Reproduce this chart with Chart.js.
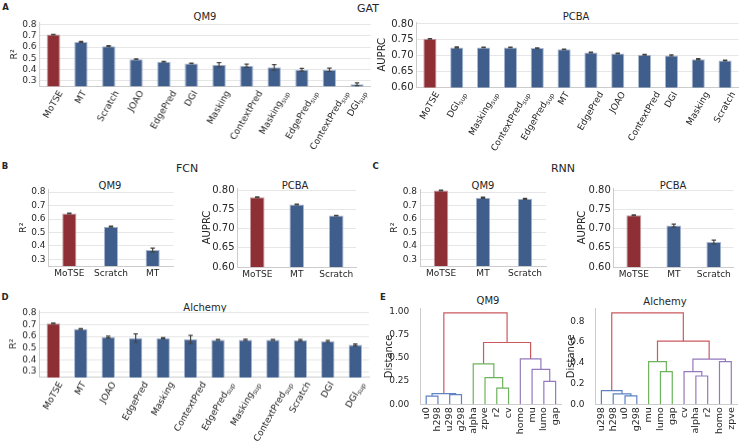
<!DOCTYPE html>
<html>
<head>
<meta charset="utf-8">
<script src="https://cdn.jsdelivr.net/npm/chart.js@4/dist/chart.umd.min.js"></script>
<style>
body{margin:0;width:740px;height:444px;position:relative;overflow:hidden;background:#fff;font-family:"DejaVu Sans",sans-serif;color:#262626}
.box{position:absolute}
.t{position:absolute;transform:translate(-50%,-50%);white-space:nowrap;font-size:10px}
.g{position:absolute;transform:translate(-50%,-50%);white-space:nowrap;font-size:11px}
.p{position:absolute;transform:translate(-50%,-50%);font-size:8.5px;font-weight:bold}
</style>
</head>
<body>
<div class="p" style="left:5.5px;top:6.5px">A</div>
<div class="g" style="left:368px;top:7.5px">GAT</div>
<div class="t" style="left:205px;top:16px">QM9</div>
<div class="t" style="left:576px;top:16px">PCBA</div>

<div class="p" style="left:5px;top:165.5px">B</div>
<div class="g" style="left:187px;top:168px">FCN</div>
<div class="t" style="left:110px;top:184.5px">QM9</div>
<div class="t" style="left:295px;top:184.5px">PCBA</div>

<div class="p" style="left:375.5px;top:165.5px">C</div>
<div class="g" style="left:563px;top:167.5px">RNN</div>
<div class="t" style="left:483px;top:184.5px">QM9</div>
<div class="t" style="left:673px;top:184.5px">PCBA</div>

<div class="p" style="left:5px;top:297px">D</div>
<div class="t" style="left:205px;top:306.5px">Alchemy</div>

<div class="p" style="left:383px;top:297px">E</div>
<div class="t" style="left:488px;top:300px">QM9</div>
<div class="t" style="left:665px;top:300.5px">Alchemy</div>

<script>
// ---- data ----
const r2Ticks = [0.3, 0.4, 0.5, 0.6, 0.7, 0.8];
const auprcTicks = [0.60, 0.65, 0.70, 0.75, 0.80];
const qm9DistTicks = [0, 0.25, 0.5, 0.75, 1.0];
const alchemyDistTicks = [0, 0.2, 0.4, 0.6, 0.8];

const gatQm9Labels = ['MoTSE', 'MT', 'Scratch', 'JOAO', 'EdgePred', 'DGI', 'Masking', 'ContextPred', 'Masking_sup', 'EdgePred_sup', 'ContextPred_sup', 'DGI_sup'];
const gatQm9Values = [0.711, 0.646, 0.608, 0.492, 0.469, 0.454, 0.442, 0.433, 0.419, 0.398, 0.397, 0.268];
const gatQm9Errors = [0.003, 0.004, 0.005, 0.003, 0.004, 0.003, 0.020, 0.015, 0.025, 0.012, 0.015, 0.012];

const gatPcbaLabels = ['MoTSE', 'DGI_sup', 'Masking_sup', 'ContextPred_sup', 'EdgePred_sup', 'MT', 'EdgePred', 'JOAO', 'ContextPred', 'DGI', 'Masking', 'Scratch'];
const gatPcbaValues = [0.753, 0.726, 0.726, 0.726, 0.724, 0.720, 0.710, 0.707, 0.703, 0.701, 0.689, 0.685];
const gatPcbaErrors = [0.001, 0.002, 0.001, 0.001, 0.001, 0.001, 0.001, 0.001, 0.001, 0.002, 0.002, 0.001];

const fcnQm9Labels = ['MoTSE', 'Scratch', 'MT'];
const fcnQm9Values = [0.640, 0.543, 0.369];
const fcnQm9Errors = [0.003, 0.004, 0.015];

const fcnPcbaLabels = ['MoTSE', 'MT', 'Scratch'];
const fcnPcbaValues = [0.782, 0.763, 0.734];
const fcnPcbaErrors = [0.001, 0.001, 0.001];

const rnnQm9Labels = ['MoTSE', 'MT', 'Scratch'];
const rnnQm9Values = [0.812, 0.758, 0.750];
const rnnQm9Errors = [0.003, 0.004, 0.004];

const rnnPcbaLabels = ['MoTSE', 'MT', 'Scratch'];
const rnnPcbaValues = [0.735, 0.708, 0.665];
const rnnPcbaErrors = [0.001, 0.004, 0.005];

const alchemyLabels = ['MoTSE', 'MT', 'JOAO', 'EdgePred', 'Masking', 'ContextPred', 'EdgePred_sup', 'Masking_sup', 'ContextPred_sup', 'Scratch', 'DGI', 'DGI_sup'];
const alchemyValues = [0.710, 0.663, 0.594, 0.585, 0.584, 0.574, 0.571, 0.571, 0.571, 0.566, 0.557, 0.528];
const alchemyErrors = [0.004, 0.004, 0.008, 0.036, 0.004, 0.034, 0.004, 0.006, 0.004, 0.008, 0.008, 0.008];

// dendrograms: leaves in plotted order, merges [left, right, height]; ids >= leaves.length are earlier merges
const qm9Leaves = ['u0', 'h298', 'u298', 'g298', 'alpha', 'zpve', 'r2', 'cv', 'homo', 'mu', 'lumo', 'gap'];
const qm9Merges = [
  [0, 1, 0.089], [2, 3, 0.104], [12, 13, 0.115],
  [6, 7, 0.175], [5, 15, 0.287], [4, 16, 0.437],
  [10, 11, 0.247], [9, 18, 0.376], [8, 19, 0.490],
  [17, 20, 0.667], [14, 21, 0.986]
];
const alchemyLeaves = ['u298', 'h298', 'u0', 'g298', 'mu', 'lumo', 'gap', 'cv', 'alpha', 'r2', 'homo', 'zpve'];
const alchemyMerges = [
  [2, 3, 0.080], [1, 12, 0.099], [0, 13, 0.131],
  [5, 6, 0.314], [4, 15, 0.410],
  [8, 9, 0.272], [7, 17, 0.314], [10, 11, 0.410], [18, 19, 0.435],
  [16, 20, 0.608], [14, 21, 0.880]
];
const colorThreshold = 0.55;

// ---- style ----
const RED = '#8e2e35', BLUE = '#3f5e8c';
const TXT = '#262626', GRID = '#e6e6e6', AXIS = '#cccccc';
const PALETTE = ['#5f82c2', '#6cb35c', '#9479bd'], ABOVE = '#cc5860';
const FONT = '"DejaVu Sans", sans-serif';
const PAD_T = 8, PAD_R = 4;

function makeCanvas(left, top, width, height) {
  const div = document.createElement('div');
  div.className = 'box';
  div.style.left = left + 'px';
  div.style.top = top + 'px';
  div.style.width = width + 'px';
  div.style.height = height + 'px';
  const c = document.createElement('canvas');
  div.appendChild(c);
  document.body.appendChild(div);
  return c;
}

// label text "Name_sup" -> Name with subscript
function drawLabel(ctx, text, cx, top, angle, size) {
  const [main, sub] = text.split('_');
  const subSize = size * 0.72;
  ctx.font = size + 'px ' + FONT;
  const wm = ctx.measureText(main).width;
  ctx.font = subSize + 'px ' + FONT;
  const ws = sub ? ctx.measureText(sub).width : 0;
  const w = wm + ws;
  const a = angle * Math.PI / 180;
  const h = w * Math.sin(a) + size * Math.cos(a);
  ctx.save();
  ctx.translate(cx, top + h / 2);
  ctx.rotate(-a);
  ctx.fillStyle = TXT;
  ctx.textAlign = 'left';
  ctx.textBaseline = 'middle';
  ctx.font = size + 'px ' + FONT;
  ctx.fillText(main, -w / 2, 0);
  if (sub) {
    ctx.font = subSize + 'px ' + FONT;
    ctx.fillText(sub, -w / 2 + wm, size * 0.3);
  }
  ctx.restore();
}

function labelPlugin(labels, angle, size, positions) {
  return {
    id: 'xLabels',
    afterDraw(chart) {
      const x = chart.scales.x;
      labels.forEach((t, i) => {
        const px = x.getPixelForValue(positions ? positions[i] : i);
        drawLabel(chart.ctx, t, px, x.top + 3, angle, size);
      });
    }
  };
}

const errorBarPlugin = {
  id: 'errorBars',
  afterDatasetsDraw(chart) {
    const ds = chart.data.datasets[0];
    const y = chart.scales.y, ctx = chart.ctx;
    ctx.save();
    ctx.strokeStyle = '#444';
    ctx.lineWidth = 1.2;
    chart.getDatasetMeta(0).data.forEach((bar, i) => {
      const lo = y.getPixelForValue(ds.data[i] - ds.errors[i]);
      const hi = y.getPixelForValue(ds.data[i] + ds.errors[i]);
      ctx.beginPath();
      ctx.moveTo(bar.x, lo); ctx.lineTo(bar.x, hi);
      ctx.moveTo(bar.x - 2.2, lo); ctx.lineTo(bar.x + 2.2, lo);
      ctx.moveTo(bar.x - 2.2, hi); ctx.lineTo(bar.x + 2.2, hi);
      ctx.stroke();
    });
    ctx.restore();
  }
};

function yAxis(box, ticks, min, max, dec, title, tickSize, titleSize) {
  return {
    min, max,
    grid: {color: GRID, drawTicks: false},
    border: {color: AXIS},
    ticks: {color: TXT, font: {size: tickSize, family: FONT}, padding: 3, autoSkip: false,
            callback: v => v.toFixed(dec)},
    afterBuildTicks: s => { s.ticks = ticks.map(v => ({value: v})); },
    title: {display: true, text: title, padding: 0, color: TXT, font: {size: titleSize, family: FONT}},
    afterFit: s => { s.width = box.l - box.x0; }
  };
}

function barChart(box, labels, values, errors, ticks, min, max, dec, title) {
  const canvas = makeCanvas(box.x0, box.t - PAD_T, box.r - box.x0 + PAD_R, box.b - box.t + PAD_T + box.xh);
  const wide = dec === 2;
  return new Chart(canvas, {
    type: 'bar',
    data: {
      labels,
      datasets: [{
        data: values,
        errors,
        backgroundColor: labels.map(l => l === 'MoTSE' ? RED : BLUE),
        borderColor: labels.map(l => l === 'MoTSE' ? '#c79a9e' : '#aab8d0'),
        borderWidth: 1,
        borderSkipped: 'start',
        barPercentage: box.bar,
        categoryPercentage: 1
      }]
    },
    options: {
      responsive: true, maintainAspectRatio: false, animation: false,
      layout: {padding: {top: PAD_T, right: PAD_R, left: 0, bottom: 0}},
      plugins: {legend: {display: false}, tooltip: {enabled: false}},
      scales: {
        x: {grid: {display: false}, border: {color: AXIS}, ticks: {display: false},
            afterFit: s => { s.height = box.xh; }},
        y: yAxis(box, ticks, min, max, dec, title, wide ? 10 : 9, wide ? 10 : 9.5)
      }
    },
    plugins: [errorBarPlugin, labelPlugin(labels, box.angle, 9)]
  });
}

function dendroLinks(leaves, merges, threshold) {
  const n = leaves.length;
  const xs = leaves.map((_, i) => 5 + 10 * i);
  const hs = leaves.map(() => 0);
  const parent = [];
  merges.forEach(([a, b, h], k) => {
    xs.push((xs[a] + xs[b]) / 2);
    hs.push(h);
    parent[a] = n + k;
    parent[b] = n + k;
  });
  const roots = [];
  merges.forEach(([, , h], k) => {
    const p = parent[n + k];
    if (h < threshold && (p === undefined || hs[p] >= threshold)) roots.push(n + k);
  });
  roots.sort((p, q) => xs[p] - xs[q]);
  const rootOf = id => {
    while (parent[id] !== undefined && hs[parent[id]] < threshold) id = parent[id];
    return id;
  };
  return merges.map(([a, b, h], k) => ({
    pts: [{x: xs[a], y: hs[a]}, {x: xs[a], y: h}, {x: xs[b], y: h}, {x: xs[b], y: hs[b]}],
    color: h >= threshold ? ABOVE : PALETTE[roots.indexOf(rootOf(n + k))]
  }));
}

function dendroChart(box, leaves, merges, ticks, max, dec) {
  const canvas = makeCanvas(box.x0, box.t - PAD_T, box.r - box.x0 + PAD_R, box.b - box.t + PAD_T + box.xh);
  const links = dendroLinks(leaves, merges, colorThreshold);
  return new Chart(canvas, {
    type: 'line',
    data: {
      datasets: links.map(k => ({
        data: k.pts, borderColor: k.color, borderWidth: 1.2,
        pointRadius: 0, fill: false, tension: 0
      }))
    },
    options: {
      responsive: true, maintainAspectRatio: false, animation: false,
      layout: {padding: {top: PAD_T, right: PAD_R, left: 0, bottom: 0}},
      plugins: {legend: {display: false}, tooltip: {enabled: false}},
      scales: {
        x: {type: 'linear', min: 0, max: leaves.length * 10, grid: {display: false},
            border: {color: AXIS}, ticks: {display: false},
            afterFit: s => { s.height = box.xh; }},
        y: Object.assign(yAxis(box, ticks, 0, max, dec, 'Distance', 9, 10), {grid: {display: false}})
      }
    },
    plugins: [labelPlugin(leaves, 90, 9.5, leaves.map((_, i) => 5 + 10 * i))]
  });
}

// ---- panels ----
barChart({x0: 9, l: 39.5, r: 369.8, t: 22.0, b: 86.3, xh: 76, angle: 60, bar: 0.48},
  gatQm9Labels, gatQm9Values, gatQm9Errors, r2Ticks, 0.25, 0.82, 1, 'R²');
barChart({x0: 375.5, l: 416, r: 738, t: 20.8, b: 87.3, xh: 76, angle: 60, bar: 0.49},
  gatPcbaLabels, gatPcbaValues, gatPcbaErrors, auprcTicks, 0.6, 0.806, 2, 'AUPRC');

barChart({x0: 17.5, l: 48, r: 173, t: 189.0, b: 266.1, xh: 16, angle: 0, bar: 0.34},
  fcnQm9Labels, fcnQm9Values, fcnQm9Errors, r2Ticks, 0.25, 0.82, 1, 'R²');
barChart({x0: 200.5, l: 237, r: 355.5, t: 186.7, b: 266.7, xh: 16, angle: 0, bar: 0.37},
  fcnPcbaLabels, fcnPcbaValues, fcnPcbaErrors, auprcTicks, 0.6, 0.806, 2, 'AUPRC');

barChart({x0: 389, l: 420, r: 546, t: 189.0, b: 266.1, xh: 16, angle: 0, bar: 0.345},
  rnnQm9Labels, rnnQm9Values, rnnQm9Errors, r2Ticks, 0.25, 0.82, 1, 'R²');
barChart({x0: 575.5, l: 613.3, r: 733.3, t: 186.7, b: 266.7, xh: 16, angle: 0, bar: 0.37},
  rnnPcbaLabels, rnnPcbaValues, rnnPcbaErrors, auprcTicks, 0.6, 0.806, 2, 'AUPRC');

barChart({x0: 8, l: 39.6, r: 369, t: 310.2, b: 377.1, xh: 67, angle: 60, bar: 0.49},
  alchemyLabels, alchemyValues, alchemyErrors, r2Ticks, 0.25, 0.82, 1, 'R²');

dendroChart({x0: 382.5, l: 419.8, r: 561, t: 307.7, b: 404, xh: 36},
  qm9Leaves, qm9Merges, qm9DistTicks, 1.035, 2);
dendroChart({x0: 564.5, l: 595, r: 736.7, t: 307.8, b: 404, xh: 36},
  alchemyLeaves, alchemyMerges, alchemyDistTicks, 0.924, 1);
</script>
</body>
</html>
